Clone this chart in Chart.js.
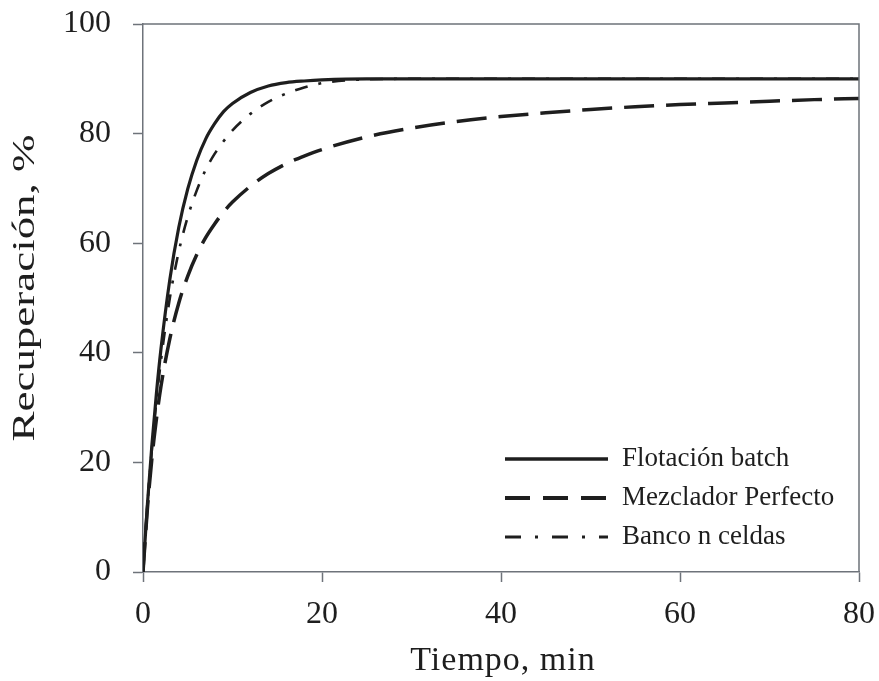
<!DOCTYPE html>
<html>
<head>
<meta charset="utf-8">
<script src="https://cdn.jsdelivr.net/npm/chart.js@4.4.1/dist/chart.umd.min.js"></script>
<style>
  html, body { margin: 0; padding: 0; background: #fff; }
  #wrap { width: 879px; height: 681px; }
</style>
</head>
<body>
<div id="wrap"><canvas id="chart" width="879" height="681"></canvas></div>
<script>
// tiempo (min)
var tiempo = [0, 0.5, 1, 1.5, 2, 3, 4, 5, 6, 7, 8, 9, 10, 12, 14, 16, 18, 20, 25, 30, 35, 40, 45, 50, 55, 60, 65, 70, 75, 80];
// recuperación (%)
var flotacionBatch = [0, 12.5, 23.3, 32.6, 40.6, 53.4, 62.9, 69.9, 75.1, 79.0, 81.8, 84.0, 85.5, 87.5, 88.7, 89.3, 89.6, 89.8, 90.0, 90.0, 90.0, 90.0, 90.0, 90.0, 90.0, 90.0, 90.0, 90.0, 90.0, 90.0];
var mezcladorPerfecto = [0, 11.7, 20.8, 27.9, 33.8, 42.6, 49.1, 54.0, 57.9, 61.0, 63.5, 65.7, 67.5, 70.4, 72.7, 74.5, 75.9, 77.1, 79.4, 81.0, 82.2, 83.1, 83.8, 84.4, 84.9, 85.3, 85.6, 85.9, 86.2, 86.4];
var bancoNCeldas = [0, 12.3, 22.6, 31.2, 38.5, 50.0, 58.5, 64.8, 69.6, 73.4, 76.3, 78.6, 80.6, 83.6, 85.8, 87.3, 88.4, 89.2, 89.9, 90.0, 90.0, 90.0, 90.0, 90.0, 90.0, 90.0, 90.0, 90.0, 90.0, 90.0];
var xTicks = [0, 20, 40, 60, 80];
var yTicks = [0, 20, 40, 60, 80, 100];

var serif = "'Liberation Serif', 'Times New Roman', serif";
var ink = '#1e1e1e';
var axisGrey = '#6e737a';

function pts(ys) {
  return tiempo.map(function(t, i) { return { x: t, y: ys[i] }; });
}

// marco, titulos de ejes y leyenda dentro del area
var framePlugin = {
  id: 'frame',
  afterDatasetsDraw: function(chart) {
    var c = chart.ctx, a = chart.chartArea;
    c.save();
    c.strokeStyle = axisGrey;
    c.lineWidth = 1.5;
    c.beginPath();
    c.moveTo(a.left, a.top);
    c.lineTo(a.right, a.top);
    c.lineTo(a.right, a.bottom);
    c.stroke();

    // titulos
    c.fillStyle = ink;
    c.textAlign = 'center';
    c.textBaseline = 'alphabetic';
    c.font = '34px ' + serif;
    c.letterSpacing = '1px';
    c.fillText('Tiempo, min', 503, 670);
    c.letterSpacing = '0px';
    c.save();
    c.translate(34, 288);
    c.rotate(-Math.PI / 2);
    c.scale(1.45, 1);
    c.font = '31px ' + serif;
    c.fillText('Recuperación, %', 0, 0);
    c.restore();

    // leyenda
    var x0 = 505, x1 = 608, y0 = 459, gap = 39;
    chart.data.datasets.forEach(function(ds, i) {
      var y = y0 + i * gap;
      c.strokeStyle = ds.borderColor;
      c.lineWidth = ds.borderWidth + 0.5;
      c.setLineDash(ds.legendDash || []);
      c.beginPath();
      c.moveTo(x0, y);
      c.lineTo(x1, y);
      c.stroke();
      c.setLineDash([]);
      c.fillStyle = ink;
      c.font = '27px ' + serif;
      c.textBaseline = 'middle';
      c.textAlign = 'left';
      c.fillText(ds.label, 622, y);
    });
    c.restore();
  }
};

new Chart(document.getElementById('chart').getContext('2d'), {
  type: 'line',
  data: {
    datasets: [{
      label: 'Flotación batch',
      data: pts(flotacionBatch),
      borderColor: ink,
      borderWidth: 3.2,
      pointRadius: 0,
      cubicInterpolationMode: 'monotone',
      legendDash: []
    }, {
      label: 'Mezclador Perfecto',
      data: pts(mezcladorPerfecto),
      borderColor: ink,
      borderWidth: 3.5,
      borderDash: [30, 12],
      pointRadius: 0,
      cubicInterpolationMode: 'monotone',
      legendDash: [25, 13]
    }, {
      label: 'Banco n celdas',
      data: pts(bancoNCeldas),
      borderColor: ink,
      borderWidth: 2.6,
      borderDash: [13, 11, 3, 11],
      pointRadius: 0,
      cubicInterpolationMode: 'monotone',
      legendDash: [16, 14, 3, 14]
    }]
  },
  options: {
    responsive: false,
    animation: false,
    layout: { padding: { top: 24, right: 20, left: 0, bottom: 0 } },
    plugins: {
      legend: { display: false },
      tooltip: { enabled: false }
    },
    scales: {
      x: {
        type: 'linear',
        min: 0,
        max: 80,
        afterBuildTicks: function(s) { s.ticks = xTicks.map(function(v) { return { value: v }; }); },
        afterFit: function(s) { s.height = 681 - 572; s.paddingLeft = 0; s.paddingRight = 0; },
        grid: { drawOnChartArea: false, drawTicks: true, tickLength: 10, tickColor: axisGrey, tickWidth: 1.5 },
        border: { display: true, color: axisGrey, width: 1.5 },
        ticks: { color: ink, font: { family: serif, size: 32 }, padding: 13, maxRotation: 0 }
      },
      y: {
        min: 0,
        max: 100,
        afterBuildTicks: function(s) { s.ticks = yTicks.map(function(v) { return { value: v }; }); },
        afterFit: function(s) { s.width = 143; s.paddingTop = 0; s.paddingBottom = 0; },
        grid: { drawOnChartArea: false, drawTicks: true, tickLength: 10, tickColor: axisGrey, tickWidth: 1.5 },
        border: { display: true, color: axisGrey, width: 1.5 },
        ticks: { color: ink, font: { family: serif, size: 32 }, padding: 22 }
      }
    }
  },
  plugins: [framePlugin]
});
</script>
</body>
</html>
